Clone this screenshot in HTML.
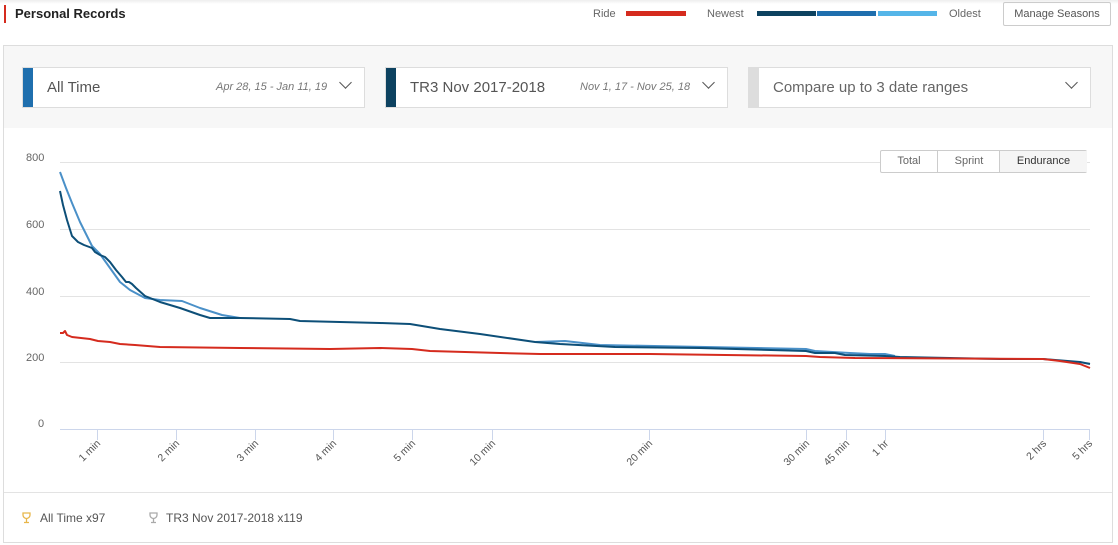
<!DOCTYPE html>
<html><head><meta charset="utf-8"><style>
*{box-sizing:border-box;margin:0;padding:0}
body{width:1118px;height:545px;background:#fff;font-family:"Liberation Sans",sans-serif;position:relative;overflow:hidden;color:#333}
.abs{position:absolute}
.sel{position:absolute;top:67px;height:41px;background:#fff;border:1px solid #ddd}
.sel .bar{position:absolute;left:0;top:0;bottom:0;width:10px}
.sel .t{position:absolute;left:24px;top:11px;font-size:15px;color:#555}
.sel .d{position:absolute;top:13px;font-size:11px;font-style:italic;color:#777}
.chev{position:absolute;top:10px;width:9px;height:9px;border-right:1.5px solid #555;border-bottom:1.5px solid #555;transform:rotate(45deg)}
</style></head><body>
<div class="abs" style="left:0;top:0;width:1118px;height:4px;background:linear-gradient(#eee,#fff)"></div>
<div class="abs" style="left:4px;top:5px;width:2px;height:18px;background:#d52b1e"></div>
<div class="abs" style="left:15px;top:6px;font-size:13px;font-weight:bold;color:#222">Personal Records</div>
<div class="abs" style="left:593px;top:8px;font-size:11px;color:#666">Ride</div>
<div class="abs" style="left:626px;top:11px;width:60px;height:5px;background:#d52b1e"></div>
<div class="abs" style="left:707px;top:8px;font-size:11px;color:#666">Newest</div>
<div class="abs" style="left:757px;top:11px;width:59px;height:5px;background:#0d4260"></div>
<div class="abs" style="left:817px;top:11px;width:59px;height:5px;background:#1f6fae"></div>
<div class="abs" style="left:878px;top:11px;width:59px;height:5px;background:#55b5e8"></div>
<div class="abs" style="left:949px;top:8px;font-size:11px;color:#666">Oldest</div>
<div class="abs" style="left:1003px;top:2px;width:108px;height:24px;border:1px solid #ccc;border-radius:2px;font-size:11px;color:#555;text-align:center;line-height:22px">Manage Seasons</div>

<div class="abs" style="left:3px;top:45px;width:1110px;height:498px;border:1px solid #ddd"></div>
<div class="abs" style="left:4px;top:46px;width:1108px;height:82px;background:#f7f7f7"></div>
<div class="abs" style="left:4px;top:492px;width:1108px;height:1px;background:#e3e3e3"></div>

<div class="sel" style="left:22px;width:343px"><div class="bar" style="background:#1f6fae"></div><div class="t">All Time</div><div class="d" style="left:193px">Apr 28, 15 - Jan 11, 19</div><div class="chev" style="left:318px"></div></div>
<div class="sel" style="left:385px;width:343px"><div class="bar" style="background:#0d4260"></div><div class="t">TR3 Nov 2017-2018</div><div class="d" style="left:194px">Nov 1, 17 - Nov 25, 18</div><div class="chev" style="left:318px"></div></div>
<div class="sel" style="left:748px;width:343px"><div class="bar" style="background:#ddd"></div><div class="t" style="color:#666">Compare up to 3 date ranges</div><div class="chev" style="left:318px"></div></div>

<svg class="abs" style="left:0;top:0" width="1118" height="545">
<g font-family="Liberation Sans,sans-serif" font-size="11" fill="#666">
<text x="26" y="161">800</text><text x="26" y="228">600</text><text x="26" y="295">400</text><text x="26" y="361">200</text><text x="38" y="427">0</text>
</g>
<g stroke="#e3e3e3" stroke-width="1">
<line x1="60" y1="162.5" x2="1090" y2="162.5"/><line x1="60" y1="229.5" x2="1090" y2="229.5"/><line x1="60" y1="296.5" x2="1090" y2="296.5"/><line x1="60" y1="362.5" x2="1090" y2="362.5"/>
</g>
<line x1="60" y1="429.5" x2="1090" y2="429.5" stroke="#ccd6eb"/>
<g stroke="#ccd6eb">
<line x1="97.5" y1="430" x2="97.5" y2="440"/><line x1="176.5" y1="430" x2="176.5" y2="440"/><line x1="255.5" y1="430" x2="255.5" y2="440"/><line x1="333.5" y1="430" x2="333.5" y2="440"/><line x1="412.5" y1="430" x2="412.5" y2="440"/><line x1="492.5" y1="430" x2="492.5" y2="440"/><line x1="649.5" y1="430" x2="649.5" y2="440"/><line x1="806.5" y1="430" x2="806.5" y2="440"/><line x1="846.5" y1="430" x2="846.5" y2="440"/><line x1="885.5" y1="430" x2="885.5" y2="440"/><line x1="1043.5" y1="430" x2="1043.5" y2="440"/><line x1="1089.5" y1="430" x2="1089.5" y2="440"/>
</g>
<g font-family="Liberation Sans,sans-serif" font-size="10.5" fill="#555" text-anchor="end">
<text transform="translate(101,444) rotate(-45)">1 min</text>
<text transform="translate(180,444) rotate(-45)">2 min</text>
<text transform="translate(259,444) rotate(-45)">3 min</text>
<text transform="translate(337,444) rotate(-45)">4 min</text>
<text transform="translate(416,444) rotate(-45)">5 min</text>
<text transform="translate(496,444) rotate(-45)">10 min</text>
<text transform="translate(653,444) rotate(-45)">20 min</text>
<text transform="translate(810,444) rotate(-45)">30 min</text>
<text transform="translate(850,444) rotate(-45)">45 min</text>
<text transform="translate(889,444) rotate(-45)">1 hr</text>
<text transform="translate(1047,444) rotate(-45)">2 hrs</text>
<text transform="translate(1093,444) rotate(-45)">5 hrs</text>
</g>
<g fill="none" stroke-width="2" stroke-linejoin="round">
<path stroke="#4a90c8" d="M60,172 L66,188 L72,203 L80,222 L92,246 L100,254 L110,268 L120,282 L130,290 L145,298 L160,300 L182,301 L200,308 L222,315 L240,318"/>
<path stroke="#4a90c8" d="M535,342 L565,341 L600,345 L806,349 L815,351 L850,353 L870,354 L885,354 L895,356"/>
<path stroke="#0d4f78" d="M60,191 L63,205 L67,220 L72,236 L78,242 L84,245 L92,248 L95,252 L100,255 L105,257 L110,262 L116,270 L122,277 L126,282 L129,282 L132,284 L136,288 L145,296 L160,302 L180,308 L200,315 L210,318 L240,318 L290,319 L300,321 L380,323 L410,324 L440,329 L480,334 L535,342 L560,344 L615,347 L700,348 L806,351 L815,353 L835,353 L845,355 L885,356 L900,357 L1000,359 L1043,359 L1080,362 L1090,364"/>
<path stroke="#d52b1e" d="M60,333 L63,333 L65,331 L67,335 L72,337 L90,339 L98,341 L110,342 L120,344 L135,345 L160,347 L240,348 L330,349 L380,348 L412,349 L430,351 L500,353 L540,354 L650,354 L806,356 L820,357 L855,358 L1043,359 L1060,361 L1080,364 L1090,368"/>
</g>
<g fill="none" stroke-width="1.3">
<path stroke="#e8b64a" d="M23,513 h7 v2 a3.5,3.5 0 0 1 -7,0 z M26.5,519 v3 M24,522.5 h5"/>
<path stroke="#aaa" d="M150,513 h7 v2 a3.5,3.5 0 0 1 -7,0 z M153.5,519 v3 M151,522.5 h5"/>
</g>
<g font-family="Liberation Sans,sans-serif" font-size="12" fill="#555">
<text x="40" y="522">All Time x97</text>
<text x="166" y="522">TR3 Nov 2017-2018 x119</text>
</g>
</svg>

<div class="abs" style="left:880px;top:150px;width:207px;height:23px;border:1px solid #ccc;border-radius:2px;font-size:11px;color:#666;background:#fff;z-index:5">
<div class="abs" style="left:0;width:56px;top:4px;text-align:center">Total</div>
<div class="abs" style="left:56px;top:0;width:1px;height:21px;background:#ccc"></div>
<div class="abs" style="left:57px;width:62px;top:4px;text-align:center">Sprint</div>
<div class="abs" style="left:118px;top:0;width:88px;height:21px;background:#f5f5f5;border-left:1px solid #ccc;text-align:center;padding-top:4px;color:#333">Endurance</div>
</div>
</body></html>
